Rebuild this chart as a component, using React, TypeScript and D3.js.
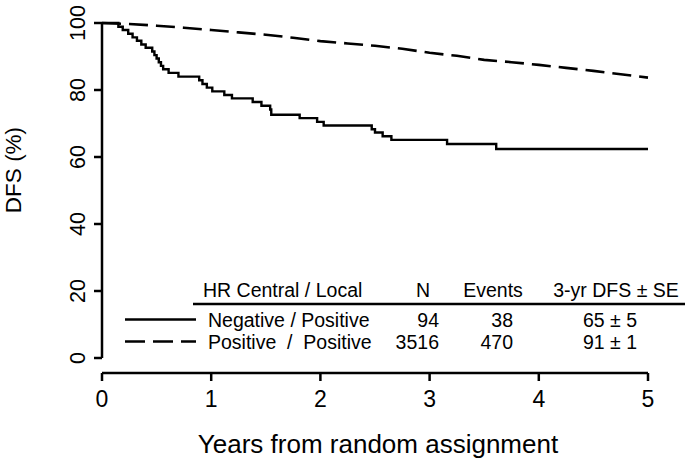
import React from "react";
import * as d3 from "d3";

const W = 685;
const H = 464;

const xTicks = [0, 1, 2, 3, 4, 5];
const yTicks = [0, 20, 40, 60, 80, 100];

// Negative / Positive (Kaplan-Meier steps)
const negTimes = [0, 0.15, 0.19, 0.24, 0.28, 0.32, 0.36, 0.40, 0.46, 0.48, 0.50, 0.52, 0.54, 0.56, 0.61, 0.70, 0.89, 0.92, 0.96, 1.01, 1.12, 1.19, 1.38, 1.46, 1.54, 1.55, 1.81, 1.97, 2.03, 2.47, 2.50, 2.57, 2.65, 3.16, 3.61, 5.0];
const negSurv = [100, 98.9, 97.9, 96.8, 95.7, 94.7, 93.6, 92.6, 91.5, 90.4, 89.4, 88.3, 87.2, 86.2, 85.1, 84.0, 82.9, 81.8, 80.7, 79.6, 78.5, 77.5, 76.4, 75.3, 74.2, 72.6, 71.6, 70.5, 69.4, 68.3, 67.3, 66.2, 65.1, 63.9, 62.4, 62.4];

// Positive / Positive
const posTimes = [0, 0.25, 0.5, 0.75, 1.0, 1.25, 1.5, 1.75, 2.0, 2.25, 2.5, 2.75, 3.0, 3.25, 3.5, 3.75, 4.0, 4.25, 4.5, 4.75, 5.0];
const posSurv = [100, 99.7, 99.2, 98.6, 97.9, 97.2, 96.5, 95.6, 94.6, 93.9, 93.2, 92.3, 91.1, 90.2, 89.0, 88.3, 87.5, 86.6, 85.7, 84.7, 83.7];

const legendGroups = ["Negative / Positive", "Positive  /  Positive"];
const legendN = ["94", "3516"];
const legendEvents = ["38", "470"];
const legendDFS = ["65 ± 5", "91 ± 1"];
const legendDash = ["none", "20,8"];

const FONT = "'Liberation Sans', Arial, Helvetica, sans-serif";

export default function App() {
  const x = d3.scaleLinear().domain([0, 5]).range([102, 648]);
  const y = d3.scaleLinear().domain([0, 100]).range([358, 23]);

  const neg = negTimes.map((t, i) => [t, negSurv[i]] as [number, number]);
  const pos = posTimes.map((t, i) => [t, posSurv[i]] as [number, number]);

  const stepLine = d3
    .line<[number, number]>()
    .x((d) => x(d[0]))
    .y((d) => y(d[1]))
    .curve(d3.curveStepAfter);
  const smoothLine = d3
    .line<[number, number]>()
    .x((d) => x(d[0]))
    .y((d) => y(d[1]));

  const rowY = [327, 349];

  return (
    <svg
      width={W}
      height={H}
      style={{ position: "absolute", left: 0, top: 0, background: "#fff" }}
      fontFamily={FONT}
    >
      <rect width={W} height={H} fill="#fff" />
      {/* Y axis */}
      <line x1={x(0)} x2={x(0)} y1={y(0)} y2={y(100)} stroke="#000" strokeWidth={2.5} />
      {yTicks.map((v) => (
        <g key={v}>
          <line x1={x(0) - 8} x2={x(0)} y1={y(v)} y2={y(v)} stroke="#000" strokeWidth={2.5} />
          <text
            transform={`translate(85,${y(v)}) rotate(-90)`}
            textAnchor="middle"
            fontSize={21.5}
          >
            {v}
          </text>
        </g>
      ))}
      {/* X axis */}
      <line x1={x(0)} x2={x(5)} y1={373} y2={373} stroke="#000" strokeWidth={2.5} />
      {xTicks.map((t) => (
        <g key={t}>
          <line x1={x(t)} x2={x(t)} y1={373} y2={381} stroke="#000" strokeWidth={2.5} />
          <text x={x(t)} y={407} textAnchor="middle" fontSize={23}>
            {t}
          </text>
        </g>
      ))}
      <text transform="translate(21,170) rotate(-90)" textAnchor="middle" fontSize={22.5}>
        DFS (%)
      </text>
      <text x={378} y={453} textAnchor="middle" fontSize={26}>
        Years from random assignment
      </text>

      {/* curves */}
      <path d={stepLine(neg) || ""} fill="none" stroke="#000" strokeWidth={2.4} />
      <path d={smoothLine(pos) || ""} fill="none" stroke="#000" strokeWidth={2.6} strokeDasharray="19,8" />

      {/* legend table */}
      <text x={203} y={297} fontSize={19.5}>HR Central / Local</text>
      <text x={423} y={297} fontSize={19.5} textAnchor="middle">N</text>
      <text x={493} y={297} fontSize={19.5} textAnchor="middle">Events</text>
      <text x={616} y={297} fontSize={19.5} textAnchor="middle">3-yr DFS ± SE</text>
      <line x1={193} x2={685} y1={304} y2={304} stroke="#000" strokeWidth={2.5} />
      {legendGroups.map((g, i) => (
        <g key={g}>
          <line
            x1={125}
            x2={196}
            y1={rowY[i] - 7.5}
            y2={rowY[i] - 7.5}
            stroke="#000"
            strokeWidth={2.5}
            strokeDasharray={legendDash[i]}
          />
          <text x={208} y={rowY[i]} fontSize={19.5} style={{ whiteSpace: "pre" }}>
            {g}
          </text>
          <text x={439} y={rowY[i]} fontSize={19.5} textAnchor="end">{legendN[i]}</text>
          <text x={513} y={rowY[i]} fontSize={19.5} textAnchor="end">{legendEvents[i]}</text>
          <text x={583} y={rowY[i]} fontSize={19.5}>{legendDFS[i]}</text>
        </g>
      ))}
    </svg>
  );
}
